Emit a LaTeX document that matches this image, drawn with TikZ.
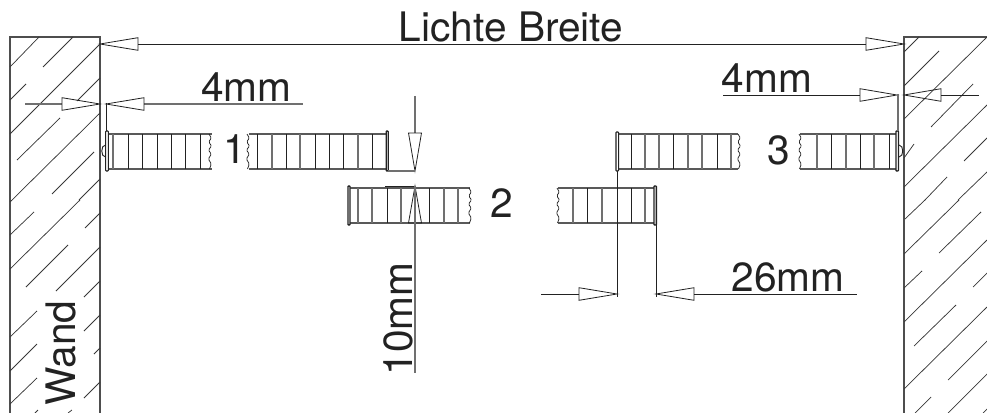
\documentclass[tikz,border=0pt]{standalone}
\usepackage{fontspec}
\setmainfont{TeX Gyre Heros}
\definecolor{ink}{HTML}{222222}
\definecolor{soft}{HTML}{707070}
\tikzset{
  px/.style={x=0.75pt,y=-0.75pt},
  line/.style={draw=ink,line width=0.7pt,line cap=butt},
  hatch/.style={draw=ink!90,line width=0.55pt},
  wallline/.style={draw=ink!80,line width=0.85pt},
  dimline/.style={draw=ink,line width=0.65pt},
  softdim/.style={draw=soft,line width=0.9pt},
  tiparrow/.style={draw=ink,line width=0.6pt,line join=miter},
  rib/.style={draw=ink,line width=0.65pt},
  softrib/.style={draw=soft,line width=0.9pt},
  rail/.style={draw=ink!75,line width=0.8pt},
  plate/.style={draw=ink,line width=0.8pt,fill=white,rounded corners=0.5pt},
  wave/.style={draw=ink,line width=0.55pt},
  lbl/.style={inner sep=0pt,outer sep=0pt,text=ink,font=\fontsize{30.5pt}{31pt}\selectfont,anchor=base}
}
% horizontal triangle: tip x, base x, y
\newcommand{\hhead}[3]{\draw[tiparrow] (#1,#3) -- (#2,#3-6.3) -- (#2,#3+6.3) -- cycle;}
% vertical triangle: x, tip y, base y
\newcommand{\vhead}[3]{\draw[tiparrow] (#1,#2) -- (#1-6.5,#3) -- (#1+6.5,#3) -- cycle;}
% wavy cut: x, top y
\newcommand{\cutline}[2]{\draw[wave,rounded corners=0.9pt] (#1-1,#2) -- (#1+1.3,#2+4) -- (#1-1.3,#2+8) -- (#1+1.6,#2+12) -- (#1-1.6,#2+16) -- (#1+1.3,#2+20) -- (#1-1.6,#2+25) -- (#1+1.3,#2+30) -- (#1-0.5,#2+35);}
% rails: x0, x1, top y
\newcommand{\rails}[3]{\draw[rail] (#1,#3) -- (#2,#3) (#1,#3+35) -- (#2,#3+35);}
% plate: x, top y, bottom y
\newcommand{\bplate}[3]{\draw[plate] (#1-1.3,#2) rectangle (#1+1.3,#3);}
\begin{document}
\begin{tikzpicture}[px]
\useasboundingbox (0,0) rectangle (987,413);
% ---- left wall
\draw[wallline] (10,413) -- (10,37) -- (100,37) -- (100,413);
\foreach \a/\b/\c/\d in {10/67/39/37,43/67/73/37,10/100/26/84,10/134/100/44,77/101/100/78,17/160/60/118,10/202/100/113,52/194/94/152,79/200/100/179,10/235/34/212,10/269/80/200,26/287/68/245,85/228/100/213,56/291/100/247,84/297/100/281,10/337/37/311,84/331/100/315,10/371/37/344,94/354/100/348,10/404/37/378,84/398/100/382,35/413/38/410,68/413/72/410}
  \draw[hatch] (\a,\b) -- (\c,\d);
% ---- right wall
\draw[wallline] (987,37) -- (904,37) -- (904,413);
\foreach \a/\b/\c/\d in {904/52/919/37,904/86/939/51,904/119/987/37,931/127/973/84,904/158/914/144,904/187/987/105,964/161/987/138,925/200/947/177,958/200/987/172,905/219/925/200,904/254/959/200,939/253/981/212,904/288/922/271,904/322/987/240,973/287/987/273,914/346/956/305,904/389/987/307,948/380/987/341,915/413/931/397,948/413/987/374,983/413/987/409}
  \draw[hatch] (\a,\b) -- (\c,\d);
% ---- bolt 1
\rails{108}{212}{134}
\foreach \x/\s in {113/softrib,128/rib,142.5/rib,157/rib,171/rib,185/rib,200/rib} \draw[\s] (\x,134) -- (\x,169);
\cutline{210}{134}
\draw[line] (105.5,145) .. controls (100.5,145) and (100.5,157) .. (105.5,157);
\bplate{107}{131}{171}
\rails{249}{386}{134}
\foreach \x/\s in {257/rib,272/softrib,286/rib,300/softrib,315/rib,329/rib,343/rib,358/softrib,372/rib} \draw[\s] (\x,134) -- (\x,169);
\cutline{248}{134}
\draw[plate,line width=1pt] (386.2,131) rectangle (388.2,171);
% ---- bolt 2
\rails{350}{470}{188}
\foreach \x/\s in {358/softrib,372/softrib,387/rib,401/softrib,429/rib,444/softrib,458/softrib} \draw[\s] (\x,188) -- (\x,223);
\cutline{470}{188}
\draw[plate,line width=1pt] (348,186) rectangle (350,225);
\rails{558}{655}{188}
\foreach \x/\s in {573/softrib,587/rib,602/softrib,631/rib,645/softrib} \draw[\s] (\x,188) -- (\x,223);
\cutline{558}{188}
\draw[plate,line width=1pt] (654,186) rectangle (656.4,225);
% ---- bolt 3
\rails{618}{738}{134}
\foreach \x/\s in {631/rib,645/softrib,659/softrib,673/rib,688/softrib,702/softrib,717/rib,731/softrib} \draw[\s] (\x,134) -- (\x,169);
\cutline{739}{134}
\bplate{617.3}{132}{171}
\rails{800}{896}{134}
\foreach \x/\s in {817/softrib,831/rib,846/softrib,860/rib,874/softrib,889/rib} \draw[\s] (\x,134) -- (\x,169);
\cutline{800}{134}
\draw[line] (899,145) .. controls (904,145) and (904,157) .. (899,157);
\draw[plate,line width=1pt] (896,131) rectangle (898.4,171);
% ---- named ends of the dimensions
\coordinate (a1) at (138,44);
\coordinate (a2) at (866,44);
% Lichte Breite
\draw[dimline] (a1) -- (a2);
\hhead{100}{138}{44}
\hhead{904}{866}{44}
\node[lbl] (lichte) at (511,42) {Lichte Breite};
% 4mm left
\draw[softdim] (25,104) -- (62,104);
\hhead{100}{62}{104}
\draw[softdim] (144,104) -- (303,104);
\hhead{106}{144}{104}
\draw[dimline] (106,103) -- (106,131);
\node[lbl] (fourl) at (246.5,102) {4mm};
% 4mm right
\draw[dimline] (723,95) -- (860,95);
\hhead{897}{860}{95}
\draw[dimline] (941,95) -- (979,95);
\hhead{904}{941}{95}
\draw[softdim] (898,94) -- (898,131);
\node[lbl] (fourr) at (767,93) {4mm};
% 10mm
\draw[softdim] (415,96) -- (415,133);
\vhead{415}{171}{133}
\draw[softdim] (388,171) -- (415,171);
\draw[dimline] (385,186) -- (415,186);
\vhead{415}{186}{223}
\draw[softdim] (415,186) -- (415,373);
\node[lbl,rotate=90] (tenmm) at (412,319) {10mm};
% 26mm
\draw[dimline] (617,171) -- (617,297);
\draw[dimline] (656,225) -- (656,297);
\draw[dimline] (541,294) -- (579,294);
\hhead{617}{579}{294}
\draw[dimline] (694,294) -- (857,294);
\hhead{656}{694}{294}
\node[lbl] (twentysix) at (788,291) {26mm};
% labels
\node[lbl] (one) at (235,164) {1};
\node[lbl] (two) at (502,217) {2};
\node[lbl] (three) at (778.5,165) {3};
\node[lbl,rotate=90] (wand) at (75,353) {Wand};
\end{tikzpicture}
\end{document}
